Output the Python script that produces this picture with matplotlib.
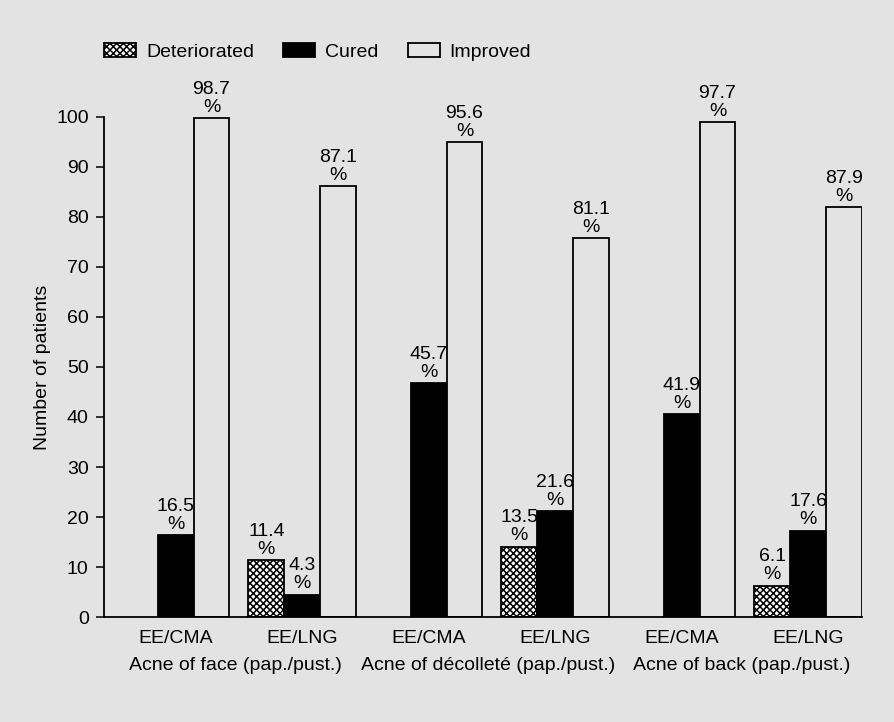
import numpy as np
import matplotlib; matplotlib.use("Agg")
import matplotlib.pyplot as plt
import matplotlib.transforms as mtransforms

plt.rcParams["font.family"] = ["Liberation Sans", "DejaVu Sans"]
plt.rcParams["hatch.linewidth"] = 1.1

BG = "#e3e3e3"

# data (bar heights = number of patients, labels = percentages)
treatments = ["EE/CMA", "EE/LNG", "EE/CMA", "EE/LNG", "EE/CMA", "EE/LNG"]
regions = ["Acne of face (pap./pust.)", "Acne of décolleté (pap./pust.)", "Acne of back (pap./pust.)"]
deteriorated = [0, 11.4, 0, 14.1, 0, 6.3]
cured = [16.4, 4.5, 46.7, 21.2, 40.5, 17.3]
improved = [99.8, 86.1, 94.9, 75.7, 98.9, 81.9]
det_pct = [None, "11.4", None, "13.5", None, "6.1"]
cured_pct = ["16.5", "4.3", "45.7", "21.6", "41.9", "17.6"]
improved_pct = ["98.7", "87.1", "95.6", "81.1", "97.7", "87.9"]

step = 3.53
centers = np.arange(len(treatments)) * step

fig = plt.figure(figsize=(8.95, 7.22), dpi=100, facecolor=BG)
ax = fig.add_axes([0.1162, 0.1454, 0.8469, 0.6926], facecolor=BG)

fs = 14
det_x = centers - 1
cur_x = centers
imp_x = centers + 1

det_vals = np.array(deteriorated, dtype=float)
mask = det_vals > 0
b_det = ax.bar(det_x[mask], det_vals[mask], width=1.0, color="white", edgecolor="black",
               hatch="xxxxx", linewidth=1.3, label="Deteriorated")
b_cur = ax.bar(cur_x, cured, width=1.0, color="black", edgecolor="black", linewidth=1.3, label="Cured")
b_imp = ax.bar(imp_x, improved, width=1.0, color=BG, edgecolor="black", linewidth=1.3, label="Improved")

def put_labels(xs, vals, labs):
    for x, v, t in zip(xs, vals, labs):
        if t is None:
            continue
        ax.annotate(f"{t}\n%", (x, v), xytext=(0, 1.5), textcoords="offset points",
                    ha="center", va="bottom", fontsize=fs, linespacing=1.1, annotation_clip=False)

put_labels(det_x, deteriorated, det_pct)
put_labels(cur_x, cured, cured_pct)
put_labels(imp_x, improved, improved_pct)

ax.set_xlim(centers[0] - 2.0, centers[-1] + 1.5)
ax.set_ylim(0, 100)
ax.set_yticks(np.arange(0, 101, 10))
ax.tick_params(axis="y", labelsize=fs, length=6, width=1.1, pad=5)
ax.set_xticks(centers)
ax.set_xticklabels(treatments, fontsize=fs)
ax.tick_params(axis="x", length=0, pad=9)
for s in ["top", "right"]:
    ax.spines[s].set_visible(False)
for s in ["left", "bottom"]:
    ax.spines[s].set_linewidth(1.3)
ax.set_ylabel("Number of patients", fontsize=fs, labelpad=4)

trans = mtransforms.blended_transform_factory(ax.transData, ax.transAxes)
for i, r in enumerate(regions):
    xm = (centers[2 * i] + centers[2 * i + 1]) / 2 - 0.1
    ax.text(xm, -0.097, r, transform=trans, ha="center", va="center", fontsize=fs)

fig.legend(handles=[b_det, b_cur, b_imp], labels=["Deteriorated", "Cured", "Improved"],
           loc="upper left", bbox_to_anchor=(0.097, 0.965), ncol=3, frameon=False,
           fontsize=fs, handlelength=1.65, handleheight=0.75, handletextpad=0.5, columnspacing=1.5)

fig.savefig("out.png", dpi=100, facecolor=BG)
